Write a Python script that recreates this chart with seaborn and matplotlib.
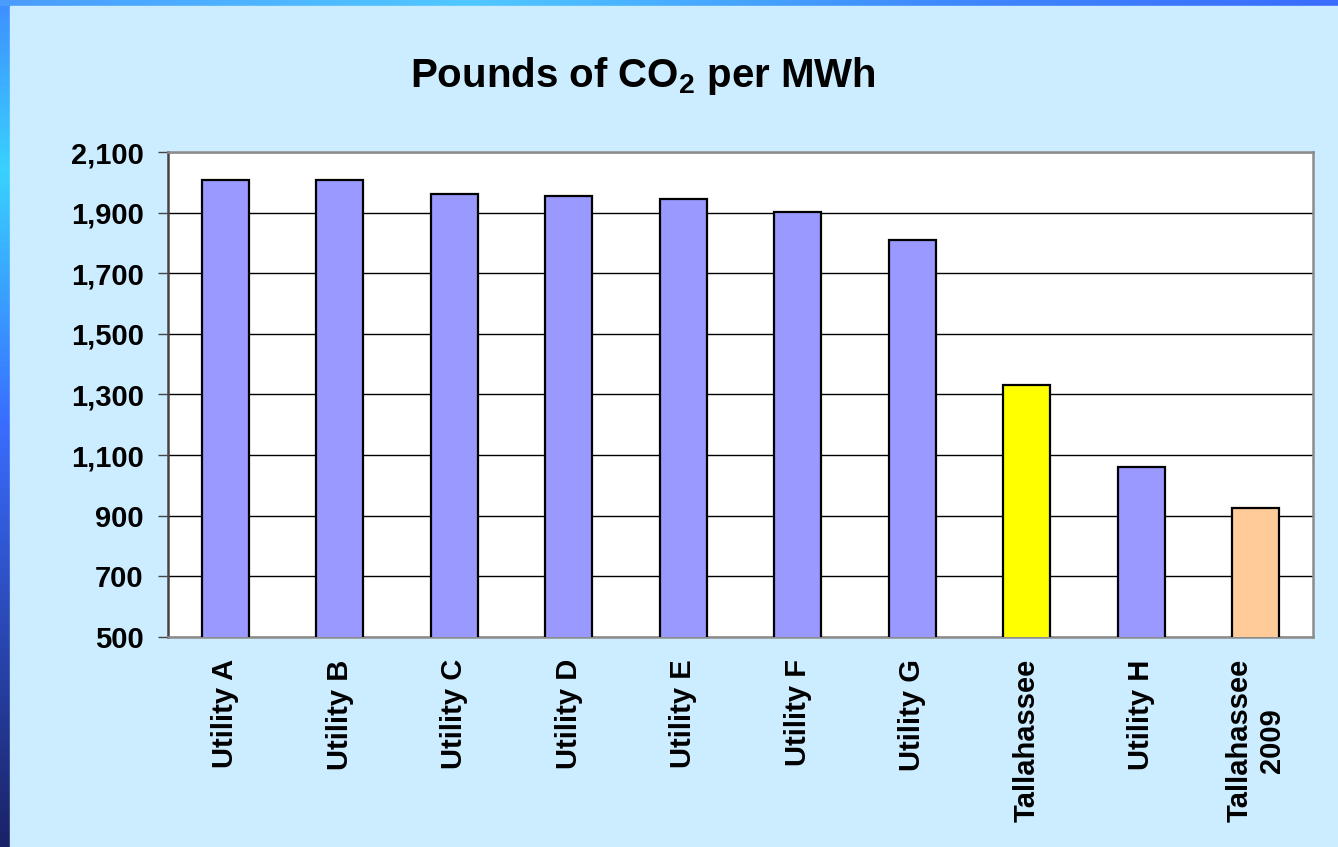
import numpy as np
import matplotlib
matplotlib.use("Agg")
import matplotlib.pyplot as plt
from matplotlib.colors import LinearSegmentedColormap
from matplotlib.patches import Rectangle
import seaborn as sns

utilities = ['Utility A', 'Utility B', 'Utility C', 'Utility D', 'Utility E',
             'Utility F', 'Utility G', 'Tallahassee', 'Utility H', 'Tallahassee\n2009']
co2_lbs = [2008, 2008, 1961, 1954, 1946, 1901, 1809, 1330, 1062, 927]
bar_colors = ['#9999FF'] * 7 + ['#FFFF00', '#9999FF', '#FFCC99']
y_ticks = list(range(500, 2101, 200))

sns.set_style('white')
plt.rcParams['font.family'] = ['Liberation Sans', 'DejaVu Sans']
plt.rcParams['text.color'] = 'black'
plt.rcParams['xtick.color'] = 'black'
plt.rcParams['ytick.color'] = 'black'

panel = '#CCECFF'
fig = plt.figure(figsize=(13.38, 8.47), dpi=100)
fig.patch.set_facecolor(panel)

# slide frame behind the chart
bg = fig.add_axes([0, 0, 1, 1], zorder=-10)
bg.set_xlim(0, 1338)
bg.set_ylim(847, 0)
bg.axis('off')
left_cmap = LinearSegmentedColormap.from_list(
    'left', [(0, '#3f8fff'), (0.2, '#38d2ff'), (0.5, '#3a6dff'), (1, '#1a2266')])
top_cmap = LinearSegmentedColormap.from_list(
    'top', [(0, '#4a9cff'), (0.35, '#50c8ff'), (0.7, '#3f8aff'), (1, '#3a6cff')])
bg.imshow(np.linspace(0, 1, 256)[:, None], cmap=left_cmap, extent=(0, 10, 847, 0), aspect='auto')
bg.imshow(np.linspace(0, 1, 256)[None, :], cmap=top_cmap, extent=(0, 1338, 6, 0), aspect='auto')
bg.add_patch(Rectangle((10, 6), 1328, 841, color=panel))

ax = fig.add_axes([168 / 1338, 1 - 637 / 847, (1313 - 168) / 1338, (637 - 152) / 847])
ax.set_facecolor('white')
sns.barplot(x=utilities, y=co2_lbs, hue=utilities, palette=bar_colors, legend=False,
            saturation=1, width=0.41, edgecolor='black', linewidth=1.6, ax=ax, zorder=3)

ax.set_ylim(500, 2100)
ax.set_yticks(y_ticks)
ax.set_yticklabels([f'{v:,}' for v in y_ticks], fontsize=21, fontweight='bold', color='black')
ax.yaxis.grid(True, color='black', linewidth=1)
ax.set_axisbelow(True)
ax.tick_params(axis='y', direction='out', length=7.5, width=1, color='#444444', pad=10, left=True)
ax.tick_params(axis='x', length=0, pad=16)
ax.set_xticks(range(len(utilities)))
ax.set_xticklabels(utilities, rotation=90, fontsize=21, fontweight='bold', va='top', ha='center',
                   multialignment='center', color='black')
ax.set_xlabel('')
ax.set_ylabel('')

for side in ['top', 'right', 'bottom']:
    ax.spines[side].set_color('#8c8c8c')
    ax.spines[side].set_linewidth(1.8)
ax.spines['left'].set_color('#444444')
ax.spines['left'].set_linewidth(1.8)

fig.text(643 / 1338, 1 - 76 / 847, 'Pounds of CO$_\\mathregular{2}$ per MWh', ha='center', va='center',
         fontsize=29, fontweight='bold', color='black')

fig.savefig('out.png', dpi=100, facecolor=fig.get_facecolor())
